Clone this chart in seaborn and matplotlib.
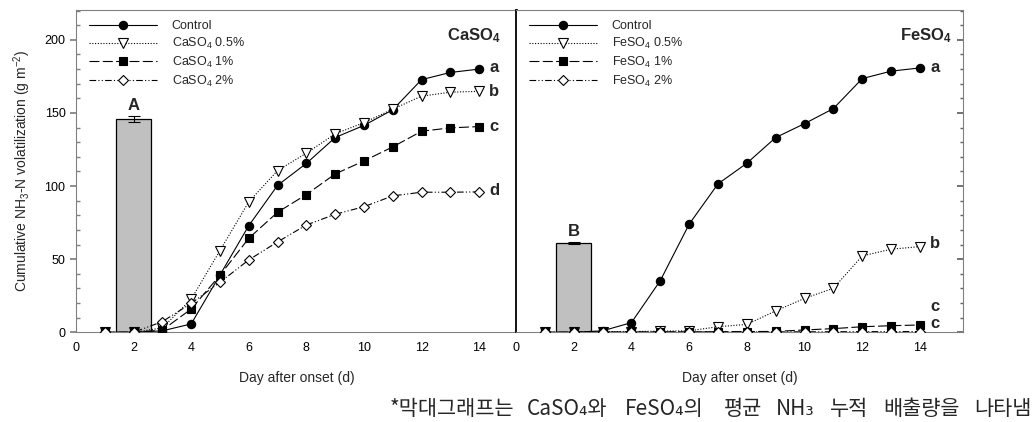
import matplotlib
matplotlib.use("Agg")
import matplotlib.pyplot as plt
import seaborn as sns
import numpy as np
from matplotlib.ticker import MultipleLocator

days = [1, 2, 3, 4, 5, 6, 7, 8, 9, 10, 11, 12, 13, 14]

ca_control = [0, 0, 1.0, 5.7, 39.2, 72.9, 100.5, 115.5, 133.2, 141.5, 152.2, 172.8, 177.7, 180.0]
ca_05 = [0, 0, 3.0, 22.6, 55.9, 89.2, 110.6, 122.5, 135.7, 143.4, 152.6, 161.5, 164.2, 164.8]
ca_1 = [0, 0, 1.5, 15.9, 39.0, 64.3, 82.1, 94.2, 108.3, 117.2, 126.8, 137.5, 139.8, 140.7]
ca_2 = [0, 0, 7.3, 19.8, 34.2, 49.5, 61.8, 73.4, 80.7, 85.9, 93.3, 95.8, 95.8, 96.0]

fe_control = [0, 0, 1.0, 6.6, 35.3, 73.9, 101.5, 115.6, 133.2, 142.7, 153.0, 173.5, 178.6, 180.8]
fe_05 = [0, 0, 0.5, 0.5, 0.8, 1.0, 3.8, 5.4, 14.6, 23.2, 30.1, 52.2, 56.8, 58.6]
fe_1 = [0, 0, 0.2, 0.2, 0.3, 0.3, 0.4, 0.5, 0.6, 1.6, 2.5, 3.8, 4.5, 5.0]
fe_2 = [0, 0, 0.1, 0.1, 0.1, 0.2, 0.2, 0.2, 0.3, 0.3, 0.4, 0.4, 0.5, 0.5]

bar_x = [2]
ca_bar = [146.0]
ca_bar_err = [2.0]
fe_bar = [61.2]
fe_bar_err = [0.6]

ca_labels = ["Control", "CaSO$_4$ 0.5%", "CaSO$_4$ 1%", "CaSO$_4$ 2%"]
fe_labels = ["Control", "FeSO$_4$ 0.5%", "FeSO$_4$ 1%", "FeSO$_4$ 2%"]
ca_letters = ["a", "b", "c", "d"]
ca_letter_y = [181, 165, 141, 97]
fe_letters = ["a", "b", "c", "c"]
fe_letter_y = [181, 61, 17.5, 6]
bar_letters = ["A", "B"]

xticks = [0, 2, 4, 6, 8, 10, 12, 14]

footnote_words = ["*막대그래프는", "CaSO₄와", "FeSO₄의", "평균", "NH₃", "누적", "배출량을", "나타냄"]
footnote_px = [390, 527, 625, 724, 776, 830, 883, 974]

sns.set_theme(style="ticks")
plt.rcParams['font.family'] = ['Liberation Sans', 'Noto Sans CJK KR', 'DejaVu Sans']
plt.rcParams['mathtext.fontset'] = 'custom'
plt.rcParams['mathtext.rm'] = 'Liberation Sans'
plt.rcParams['mathtext.it'] = 'Liberation Sans:italic'
plt.rcParams['mathtext.bf'] = 'Liberation Sans:bold'
plt.rcParams['mathtext.default'] = 'regular'

fig = plt.figure(figsize=(10.32, 4.22), dpi=100)
axL = fig.add_axes([0.0736, 0.2126, 0.4273, 0.764])
axR = fig.add_axes([0.5, 0.2126, 0.4331, 0.764])

styles = [
    dict(marker='o', linestyle='-', markerfacecolor='black'),
    dict(marker='v', linestyle=(0, (1, 1.5)), markerfacecolor='white'),
    dict(marker='s', linestyle=(0, (9, 3)), markerfacecolor='black'),
    dict(marker='D', linestyle=(0, (6, 2, 1, 2, 1, 2)), markerfacecolor='white'),
]
msizes = [6, 6.5, 6, 5.5]

def draw_panel(ax, series, labels, bar_val, bar_err, bar_letter, letters, letter_y, title, xmax, tx):
    sns.barplot(x=bar_x, y=bar_val, ax=ax, native_scale=True, width=1.2,
                color='#c0c0c0', edgecolor='black', linewidth=0.9, saturation=1, zorder=1)
    ax.errorbar(bar_x, bar_val, yerr=bar_err, fmt='none', ecolor='black',
                elinewidth=0.8, capsize=4, capthick=0.8, zorder=2)
    ax.text(bar_x[0], bar_val[0] + bar_err[0] + 2, bar_letter, ha='center', va='bottom',
            fontsize=12, fontweight='bold')
    for vals, lab, st, ms in zip(series, labels, styles, msizes):
        sns.lineplot(x=days, y=vals, ax=ax, color='black', linewidth=0.8,
                     markersize=ms, markeredgecolor='black', markeredgewidth=0.8,
                     label=lab, zorder=3, **st)
    for l, y in zip(letters, letter_y):
        ax.text(14.35, y, l, ha='left', va='center', fontsize=12, fontweight='bold')
    ax.text(tx, 203, title, ha='right', va='center', fontsize=12, fontweight='bold')
    ax.set_xlim(0, xmax)
    ax.set_ylim(0, 220.5)
    ax.set_xticks(xticks)
    ax.set_xticklabels([str(t) for t in xticks], fontsize=9)
    ax.set_xlabel("Day after onset (d)", fontsize=10, labelpad=12)
    ax.tick_params(axis='x', length=0, pad=7, colors='black')
    ax.legend(loc='upper left', frameon=False, fontsize=9, handlelength=5.4,
              handletextpad=1.2, labelspacing=0.3, borderaxespad=0.3,
              bbox_to_anchor=(0.01, 0.995))
    for sp in ax.spines.values():
        sp.set_color('#808080')
        sp.set_linewidth(0.8)

draw_panel(axL, [ca_control, ca_05, ca_1, ca_2], ca_labels, ca_bar, ca_bar_err, bar_letters[0],
           ca_letters, ca_letter_y, r"$\mathbf{CaSO_4}$", 15.31, 14.75)
draw_panel(axR, [fe_control, fe_05, fe_1, fe_2], fe_labels, fe_bar, fe_bar_err, bar_letters[1],
           fe_letters, fe_letter_y, r"$\mathbf{FeSO_4}$", 15.49, 15.12)

axL.set_yticks([0, 50, 100, 150, 200])
axL.set_yticklabels(["0", "50", "100", "150", "200"], fontsize=9)
axL.yaxis.set_minor_locator(MultipleLocator(10))
axL.tick_params(axis='y', which='major', direction='out', length=4, color='#808080', labelcolor='black')
axL.tick_params(axis='y', which='minor', direction='in', length=3, color='#808080')
axL.set_ylabel("Cumulative NH$_3$-N volatilization (g m$^{-2}$)", fontsize=10, labelpad=8)
axL.spines['right'].set_color('black')
axL.spines['right'].set_linewidth(1.3)

axR.set_ylabel("")
axR.yaxis.tick_right()
axR.set_yticks([0, 50, 100, 150, 200])
axR.yaxis.set_minor_locator(MultipleLocator(10))
axR.tick_params(axis='y', which='major', direction='in', length=4, color='#606060', labelright=False, labelleft=False)
axR.tick_params(axis='y', which='minor', direction='in', length=2.5, color='#606060')
axR.spines['left'].set_color('black')
axR.spines['left'].set_linewidth(1.3)

for w, px in zip(footnote_words, footnote_px):
    fig.text(px / 1032, 0.03, w, ha='left', va='center', fontsize=15,
             family=['Noto Sans CJK KR', 'DejaVu Sans'])

fig.savefig("out.png", dpi=100)
